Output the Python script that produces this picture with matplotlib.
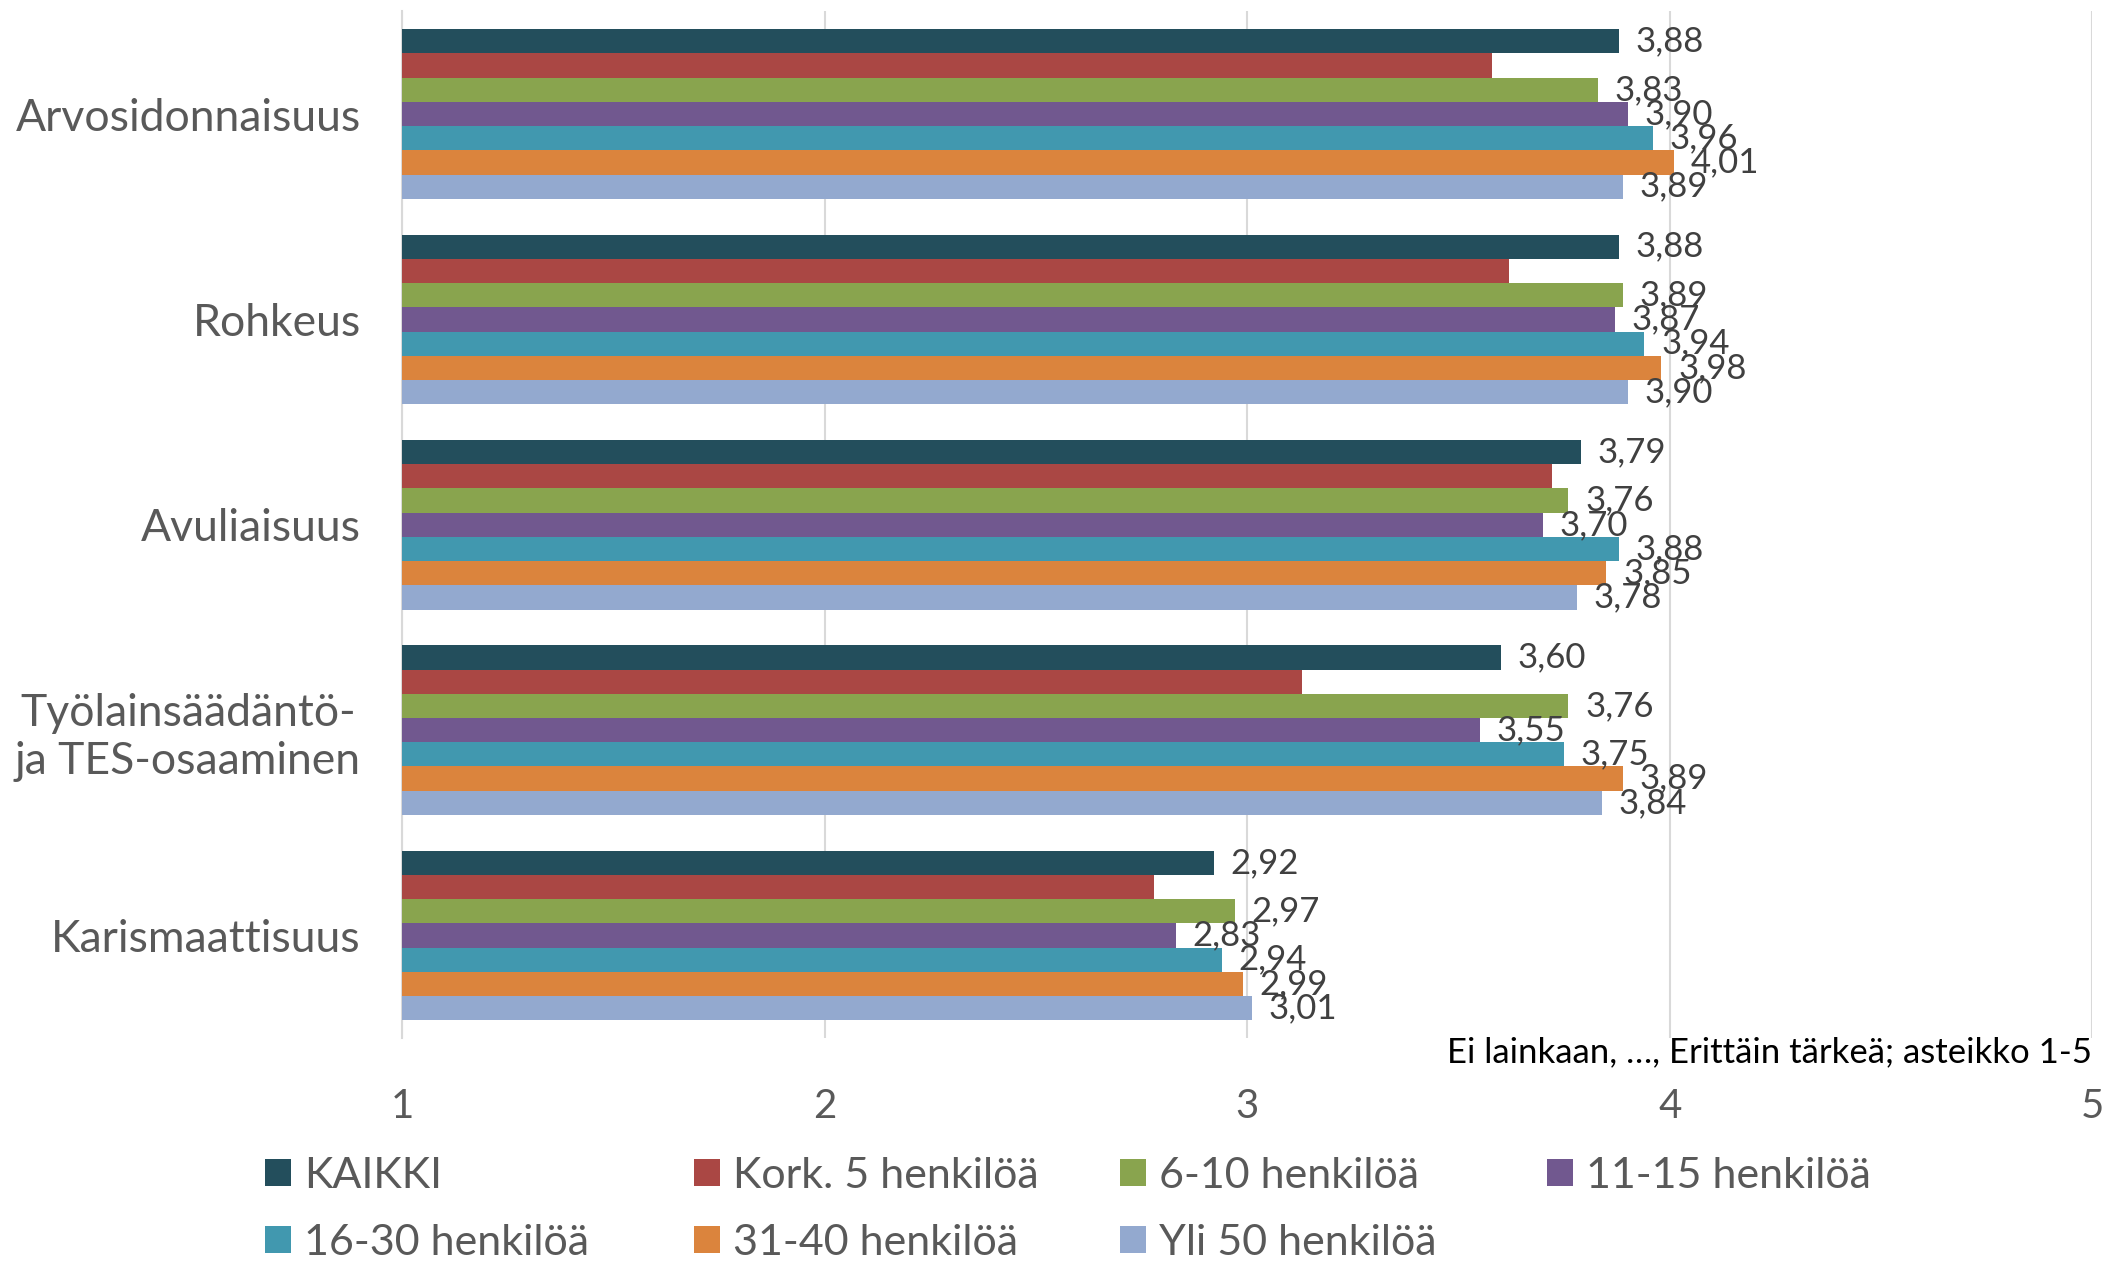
import matplotlib
matplotlib.use("Agg")
import matplotlib.pyplot as plt
from matplotlib.patches import Patch
import numpy as np

categories = ["Arvosidonnaisuus", "Rohkeus", "Avuliaisuus",
              "Työlainsäädäntö-\nja TES-osaaminen", "Karismaattisuus"]
series_names = ["KAIKKI", "Kork. 5 henkilöä", "6-10 henkilöä", "11-15 henkilöä",
                "16-30 henkilöä", "31-40 henkilöä", "Yli 50 henkilöä"]
kaikki = [3.88, 3.88, 3.79, 3.60, 2.92]
kork5 = [3.58, 3.62, 3.72, 3.13, 2.78]
h6_10 = [3.83, 3.89, 3.76, 3.76, 2.97]
h11_15 = [3.90, 3.87, 3.70, 3.55, 2.83]
h16_30 = [3.96, 3.94, 3.88, 3.75, 2.94]
h31_40 = [4.01, 3.98, 3.85, 3.89, 2.99]
yli50 = [3.89, 3.90, 3.78, 3.84, 3.01]
series_values = [kaikki, kork5, h6_10, h11_15, h16_30, h31_40, yli50]
show_labels = [True, False, True, True, True, True, True]
colors = ["#234E5C", "#AA4744", "#89A44E", "#71588F", "#4198AF", "#DB843D", "#93A9CF"]
x_ticks = [1, 2, 3, 4, 5]
scale_note = "Ei lainkaan, …, Erittäin tärkeä; asteikko 1-5"

plt.rcParams["font.family"] = ["Lato", "DejaVu Sans"]

W, H = 2107, 1263
fig = plt.figure(figsize=(W / 100, H / 100), dpi=100)
ax = fig.add_axes([0.191, 0.178, 0.802, 0.813])

n = len(series_names)
bar_h = 0.118
y_base = np.arange(len(categories))
for j, (name, vals, col) in enumerate(zip(series_names, series_values, colors)):
    y = y_base + (j - (n - 1) / 2) * bar_h
    bars = ax.barh(y, np.array(vals) - 1, left=1, height=bar_h, color=col,
                   label=name, zorder=3)
    if show_labels[j]:
        ax.bar_label(bars, labels=[f"{v:.2f}".replace(".", ",") for v in vals],
                     padding=12, fontsize=25, color="#404040", zorder=4)

ax.set_xlim(1, 5)
ax.set_ylim(len(categories) - 0.5, -0.5)
ax.set_xticks(x_ticks)
ax.set_xticklabels([str(t) for t in x_ticks])
ax.tick_params(axis="x", length=0, pad=36, labelsize=29, labelcolor="#595959")
ax.set_yticks(y_base)
ax.set_yticklabels(categories, fontsize=32, color="#595959", ha="right",
                   multialignment="center")
ax.tick_params(axis="y", length=0, pad=30)
ax.grid(axis="x", color="#D9D9D9", linewidth=1.5, zorder=0)
for side in ["top", "right", "bottom"]:
    ax.spines[side].set_visible(False)
ax.spines["left"].set_color("#D9D9D9")
ax.spines["left"].set_linewidth(1.5)

ax.text(1.0, -0.014, scale_note, transform=ax.transAxes, ha="right", va="center",
        fontsize=25, color="#000000")

# Legend laid out as a 4-column grid, filled row by row
col_x = [265, 694, 1120, 1547]
row_y = [1176, 1243]
for k, (name, col) in enumerate(zip(series_names, colors)):
    r, c = divmod(k, 4)
    fig.legend([Patch(facecolor=col)], [name], loc="center left",
               bbox_to_anchor=(col_x[c] / W, 1 - row_y[r] / H),
               frameon=False, fontsize=31, labelcolor="#595959",
               handlelength=0.6, handleheight=0.6, handletextpad=0.3,
               borderpad=0, borderaxespad=0)

fig.savefig("out.png", dpi=100)
